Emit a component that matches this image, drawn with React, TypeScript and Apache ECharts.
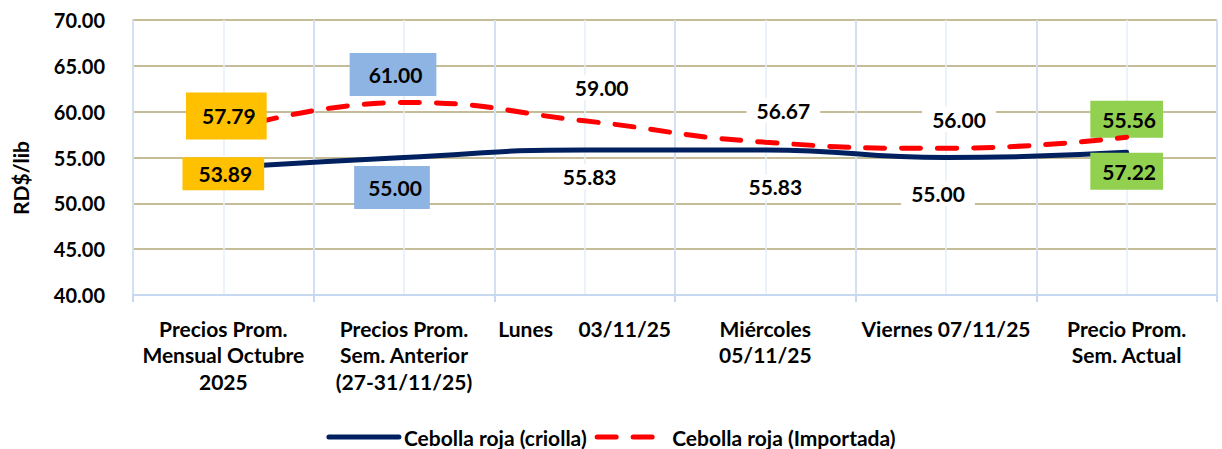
import React, { useEffect, useRef } from "react";
import * as echarts from "echarts";

const categories = [
  "Precios Prom.\nMensual Octubre\n2025",
  "Precios Prom.\nSem. Anterior\n(27-31/11/25)",
  "Lunes     03/11/25",
  "Miércoles\n05/11/25",
  "Viernes 07/11/25",
  "Precio Prom.\nSem. Actual",
];
const criolla = [53.89, 55.0, 55.83, 55.83, 55.0, 55.56];
const importada = [57.79, 61.0, 59.0, 56.67, 56.0, 57.22];
const seriesNames = ["Cebolla roja (criolla)", "Cebolla roja (Importada)"];
const yMin = 40;
const yMax = 70;
const yStep = 5;

const FONT = "Lato";
const ORANGE = "#FFC000";
const LBLUE = "#8EB4E3";
const GREEN = "#92D050";
const WHITE = "#FFFFFF";

const criollaLabelStyle = [
  { off: [0, 6], bg: ORANGE, pad: [6, 12, 6, 16] },
  { off: [-12, 30], bg: LBLUE, pad: [11, 8, 11, 14] },
  { off: [5, 27], bg: WHITE, pad: [2, 10, 2, 10] },
  { off: [10, 37], bg: WHITE, pad: [2, 10, 2, 10] },
  { off: [-8, 36], bg: WHITE, pad: [2, 10, 2, 10] },
  { off: [0, -33], bg: GREEN, pad: [8, 7, 8, 12] },
];
const importadaLabelStyle = [
  { off: [3, -16], bg: ORANGE, pad: [13, 11, 13, 16] },
  { off: [-11, -28], bg: LBLUE, pad: [11, 14, 11, 19] },
  { off: [17, -33], bg: WHITE, pad: [2, 10, 2, 10] },
  { off: [18, -32], bg: WHITE, pad: [2, 10, 2, 10] },
  { off: [13, -29], bg: WHITE, pad: [2, 10, 2, 10] },
  { off: [0, 34], bg: GREEN, pad: [8, 7, 8, 12] },
];

function mkLabel(s: { off: number[]; bg: string; pad: number[] }) {
  return {
    show: true,
    position: "inside",
    offset: s.off,
    backgroundColor: s.bg,
    padding: s.pad,
    color: "#000",
    fontFamily: FONT,
    fontWeight: "bold",
    fontSize: 21,
    formatter: (p: any) => Number(p.value).toFixed(2),
  };
}

export default function App() {
  const ref = useRef<HTMLDivElement>(null);
  useEffect(() => {
    if (!ref.current) return;
    const chart = echarts.init(ref.current, null, { renderer: "svg" });
    chart.setOption({
      animation: false,
      backgroundColor: "#fff",
      textStyle: { fontFamily: FONT },
      grid: { left: 133, right: 5, top: 20, bottom: 154, containLabel: false },
      legend: {
        top: 426,
        left: "center",
        padding: 0,
        itemWidth: 70,
        itemHeight: 14,
        itemGap: 8,
        itemStyle: { opacity: 0 },
        lineStyle: { width: 5, cap: "round" },
        textStyle: { fontFamily: FONT, fontWeight: "bold", fontSize: 21, lineHeight: 22, color: "#000" },
        data: seriesNames,
      },
      graphic: [
        {
          type: "text",
          x: 20,
          y: 178,
          rotation: Math.PI / 2,
          style: {
            text: "RD$/lib",
            fontFamily: FONT,
            fontWeight: "bold",
            fontSize: 21,
            fill: "#000",
            textAlign: "center",
            textVerticalAlign: "middle",
          },
        },
      ],
      xAxis: [
        {
          type: "category",
          data: categories,
          boundaryGap: true,
          axisLine: { show: true, lineStyle: { color: "#C6D9F1", width: 2 } },
          axisTick: { show: true, length: 7, lineStyle: { color: "#C6D9F1", width: 2 } },
          splitLine: { show: true, lineStyle: { color: "#D3E0F1", width: 2 } },
          axisLabel: {
            interval: 0,
            margin: 20,
            color: "#000",
            fontFamily: FONT,
            fontWeight: "bold",
            fontSize: 21,
            lineHeight: 26.5,
          },
          z: 3,
        },
        {
          type: "value",
          min: 0,
          max: 6,
          interval: 0.5,
          show: true,
          position: "top",
          axisLine: { show: false },
          axisTick: { show: false },
          axisLabel: { show: false },
          splitLine: { show: true, lineStyle: { color: "#E6EEF8", width: 1.5 } },
        },
      ],
      yAxis: {
        type: "value",
        min: yMin,
        max: yMax,
        interval: yStep,
        axisLine: { show: true, lineStyle: { color: "#C6D9F1", width: 2 } },
        axisTick: { show: false },
        splitLine: { show: true, lineStyle: { color: "#C4BD97", width: 2 } },
        axisLabel: {
          margin: 28,
          color: "#000",
          fontFamily: FONT,
          fontWeight: "bold",
          fontSize: 20,
          formatter: (v: number) => v.toFixed(2),
        },
      },
      series: [
        {
          name: seriesNames[0],
          type: "line",
          xAxisIndex: 0,
          smooth: true,
          symbol: "circle",
          symbolSize: 0.01,
          itemStyle: { color: "#002060" },
          lineStyle: { color: "#002060", width: 5, cap: "round" },
          z: 4,
          data: criolla.map((v, i) => ({ value: v, label: mkLabel(criollaLabelStyle[i]) })),
        },
        {
          name: seriesNames[1],
          type: "line",
          xAxisIndex: 0,
          smooth: true,
          symbol: "circle",
          symbolSize: 0.01,
          itemStyle: { color: "#FF0000" },
          lineStyle: { color: "#FF0000", width: 5, type: [19, 17], cap: "round" },
          z: 5,
          data: importada.map((v, i) => ({ value: v, label: mkLabel(importadaLabelStyle[i]) })),
        },
      ],
    });
    return () => chart.dispose();
  }, []);
  return <div ref={ref} style={{ width: 1222, height: 449, position: "absolute", left: 0, top: 0 }} />;
}
